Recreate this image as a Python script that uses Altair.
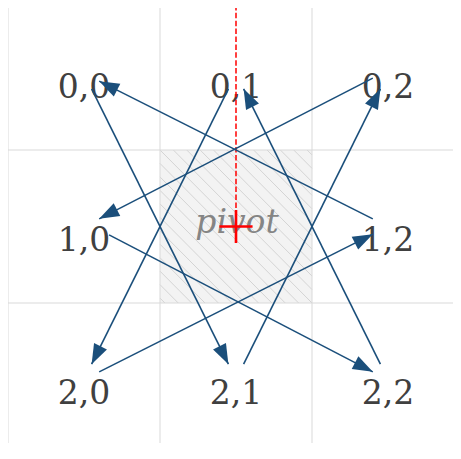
import math
import altair as alt
import pandas as pd

# ---- data ----
label_text = ["0,0", "0,1", "0,2", "1,0", "1,2", "2,0", "2,1", "2,2"]
label_row = [0, 0, 0, 1, 1, 2, 2, 2]
label_col = [0, 1, 2, 0, 2, 0, 1, 2]

pivot_row = 1
pivot_col = 1
pivot_text = "pivot"

# arrows (start -> end), in cell units (column, row)
arrow_x0 = [0.55, 1.45, 2.40, 0.665, 2.40, 0.60, 1.55, 2.45]
arrow_y0 = [0.60, 0.60, 0.53, 1.555, 1.45, 2.45, 2.40, 2.40]
arrow_x1 = [1.45, 0.55, 0.60, 2.40, 0.60, 2.40, 2.45, 1.55]
arrow_y1 = [2.40, 2.40, 1.45, 2.45, 0.55, 1.55, 0.60, 0.60]

grid_lines = [0, 1, 2, 3]
hatch_k = list(range(-11, 12))
HATCH_STEP = 0.088

# ---- layout ----
W, H = 445, 435
PX_X, PX_Y = 152.0, 153.0
Y0 = 11.0 / PX_Y
xs = alt.Scale(domain=[0, W / PX_X], nice=False, zero=False)
ys = alt.Scale(domain=[Y0, Y0 + H / PX_Y], nice=False, zero=False, reverse=True)

ARROW_COLOR = "#1b4f7b"

# pivot cell
pivot_df = pd.DataFrame({"x": [pivot_col], "x2": [pivot_col + 1],
                         "y": [pivot_row], "y2": [pivot_row + 1]})
pivot_rect = alt.Chart(pivot_df).mark_rect(fill="#f3f3f3", strokeWidth=0).encode(
    x=alt.X("x:Q", scale=xs, axis=None), x2="x2:Q",
    y=alt.Y("y:Q", scale=ys, axis=None), y2="y2:Q")

# hatch segments ("\" direction) inside the pivot cell
hx0, hy0, hx1, hy1 = [], [], [], []
for k in hatch_k:
    c = k * HATCH_STEP
    if c >= 0:
        hx0.append(pivot_col + c); hy0.append(pivot_row)
        hx1.append(pivot_col + 1); hy1.append(pivot_row + 1 - c)
    else:
        hx0.append(pivot_col); hy0.append(pivot_row - c)
        hx1.append(pivot_col + 1 + c); hy1.append(pivot_row + 1)
hatch_df = pd.DataFrame({"x": hx0, "y": hy0, "x2": hx1, "y2": hy1})
hatch = alt.Chart(hatch_df).mark_rule(color="#d0d0d0", strokeWidth=0.9).encode(
    x=alt.X("x:Q", scale=xs, axis=None), x2="x2:Q",
    y=alt.Y("y:Q", scale=ys, axis=None), y2="y2:Q")

# grid
vgrid_df = pd.DataFrame({"x": grid_lines, "y": [0] * 4, "y2": [3] * 4})
hgrid_df = pd.DataFrame({"y": grid_lines, "x": [0] * 4, "x2": [3] * 4})
vgrid = alt.Chart(vgrid_df).mark_rule(color="#d9d9d9", strokeWidth=1).encode(
    x=alt.X("x:Q", scale=xs, axis=None),
    y=alt.Y("y:Q", scale=ys, axis=None), y2="y2:Q")
hgrid = alt.Chart(hgrid_df).mark_rule(color="#d9d9d9", strokeWidth=1).encode(
    y=alt.Y("y:Q", scale=ys, axis=None),
    x=alt.X("x:Q", scale=xs, axis=None), x2="x2:Q")

# cell labels
lab_df = pd.DataFrame({"t": label_text,
                       "x": [c + 0.5 for c in label_col],
                       "y": [r + 0.5 for r in label_row]})
labels = alt.Chart(lab_df).mark_text(
    font="DejaVu Serif", fontSize=33, color="#404040",
    align="center", baseline="alphabetic", dy=24).encode(
    x=alt.X("x:Q", scale=xs, axis=None),
    y=alt.Y("y:Q", scale=ys, axis=None), text="t:N")

# pivot text
pv_df = pd.DataFrame({"t": [pivot_text], "x": [pivot_col + 0.5], "y": [pivot_row + 0.5]})
pv_text = alt.Chart(pv_df).mark_text(
    font="DejaVu Serif", fontStyle="italic", fontSize=33, color="#858585",
    align="center", baseline="alphabetic", dy=6, dx=1).encode(
    x=alt.X("x:Q", scale=xs, axis=None),
    y=alt.Y("y:Q", scale=ys, axis=None), text="t:N")

# dashed vertical red line from top to pivot centre
dash_df = pd.DataFrame({"x": [pivot_col + 0.5], "y": [0], "y2": [pivot_row + 0.5]})
dash = alt.Chart(dash_df).mark_rule(color="#ff0000", strokeWidth=1.5,
                                    strokeDash=[5.5, 2.4]).encode(
    x=alt.X("x:Q", scale=xs, axis=None),
    y=alt.Y("y:Q", scale=ys, axis=None), y2="y2:Q")

# red cross at pivot centre
cross = alt.Chart(pv_df).mark_point(
    shape="M-1,0L1,0M0,-1L0,1", filled=False, stroke="#ff0000",
    strokeWidth=2.6, size=1100, opacity=1).encode(
    x=alt.X("x:Q", scale=xs, axis=None),
    y=alt.Y("y:Q", scale=ys, axis=None))

# arrows
ang = [math.degrees(math.atan2((x1 - x0) * PX_X, -(y1 - y0) * PX_Y)) % 360
       for x0, y0, x1, y1 in zip(arrow_x0, arrow_y0, arrow_x1, arrow_y1)]
arr_df = pd.DataFrame({"x0": arrow_x0, "y0": arrow_y0,
                       "x1": arrow_x1, "y1": arrow_y1, "ang": ang})
shafts = alt.Chart(arr_df).mark_rule(color=ARROW_COLOR, strokeWidth=1.6).encode(
    x=alt.X("x0:Q", scale=xs, axis=None), x2="x1:Q",
    y=alt.Y("y0:Q", scale=ys, axis=None), y2="y1:Q")
heads = alt.Chart(arr_df).mark_point(
    shape="M0,0L-0.72,2L0.72,2Z", filled=True, fill=ARROW_COLOR,
    strokeWidth=0, size=400, opacity=1).encode(
    x=alt.X("x1:Q", scale=xs, axis=None),
    y=alt.Y("y1:Q", scale=ys, axis=None),
    angle=alt.Angle("ang:Q", scale=None))

chart = alt.layer(
    pivot_rect, hatch, vgrid, hgrid, labels, pv_text, dash, shafts, heads, cross
).properties(
    width=W, height=H, padding=0,
    autosize=alt.AutoSizeParams(type="none"),
    background="white",
).configure_view(strokeWidth=0)

chart.save("out.html", embed_options={"renderer": "svg", "actions": False})
